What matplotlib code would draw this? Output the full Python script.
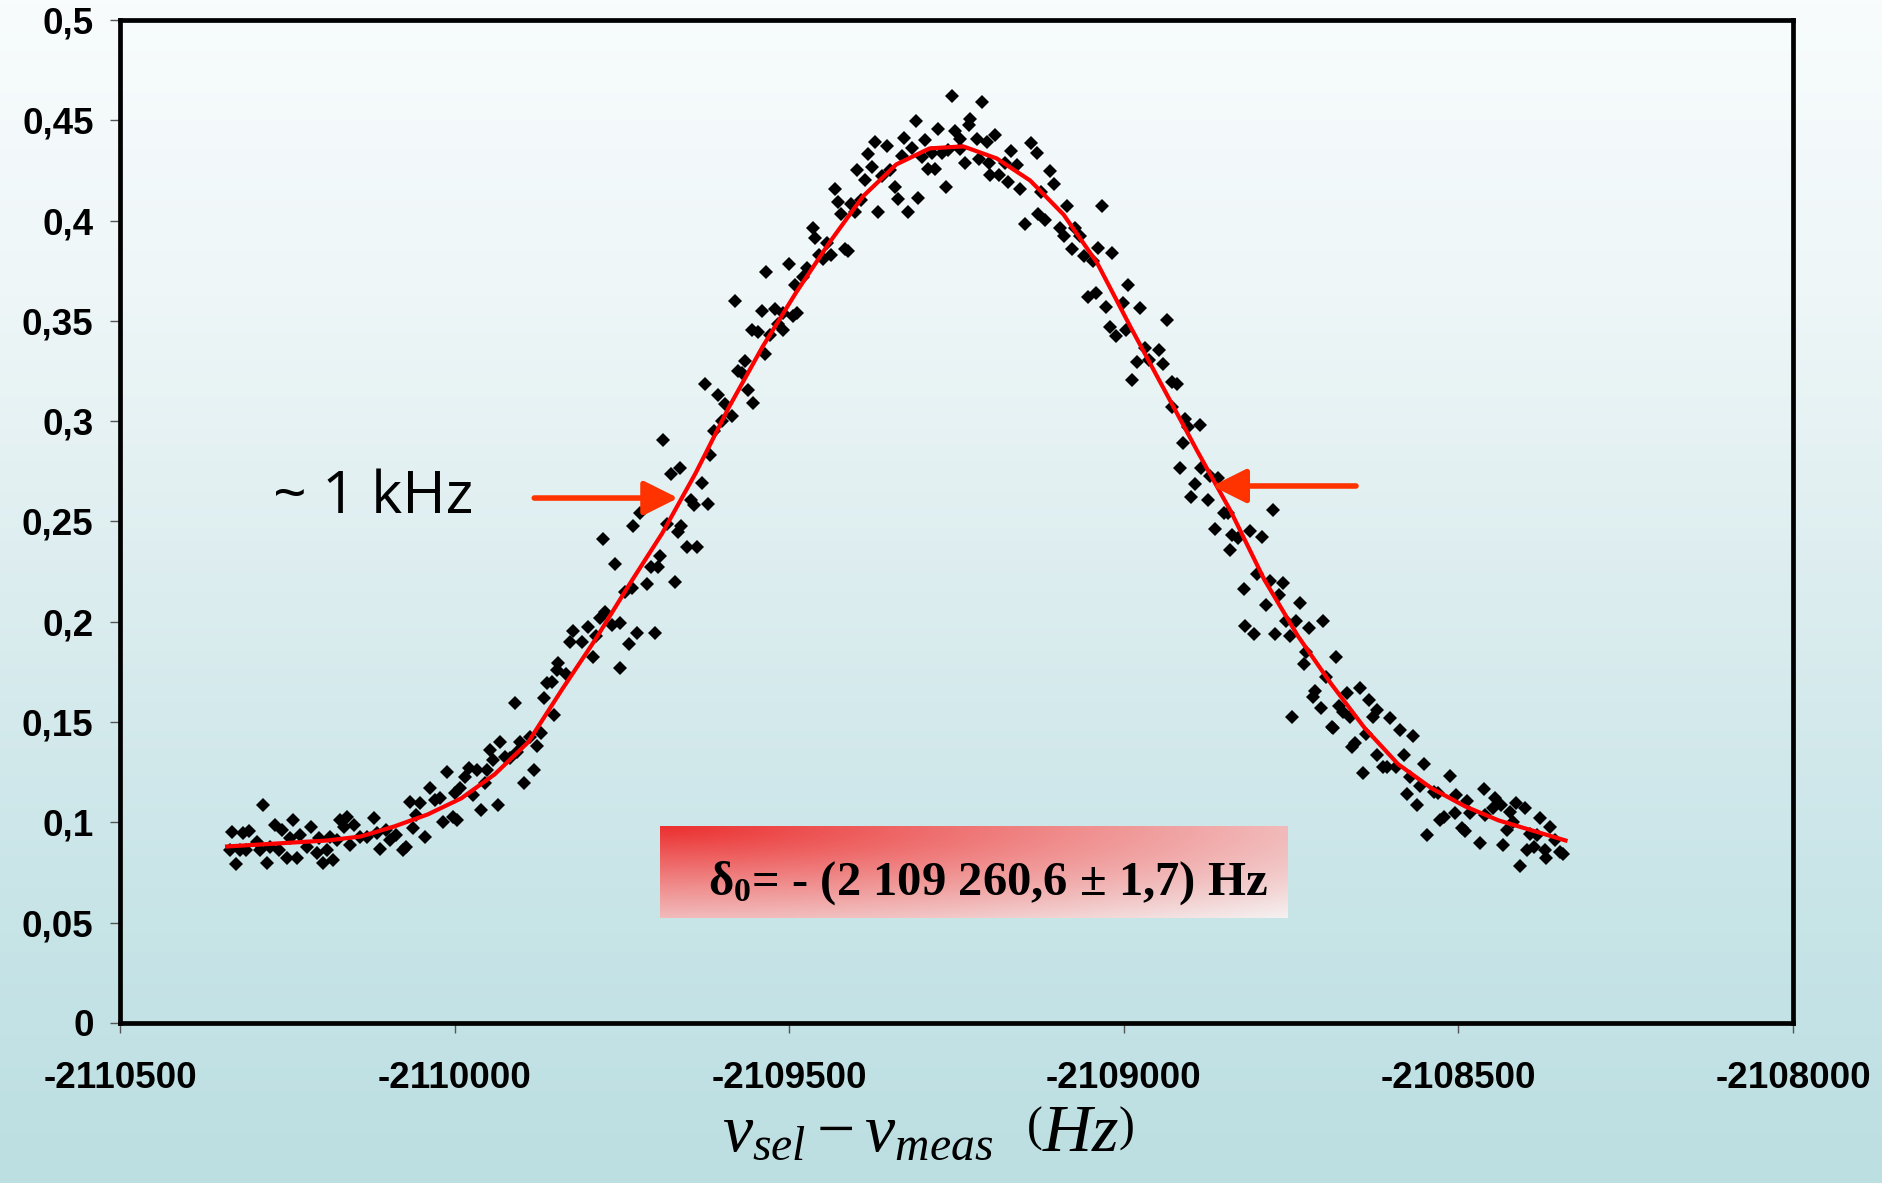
import numpy as np
import matplotlib
matplotlib.use("Agg")
import matplotlib.pyplot as plt
from matplotlib.colors import LinearSegmentedColormap
from matplotlib.ticker import FuncFormatter, MultipleLocator

plt.rcParams['mathtext.fontset'] = 'custom'
plt.rcParams['mathtext.rm'] = 'Liberation Serif'
plt.rcParams['mathtext.it'] = 'Liberation Serif:italic'
plt.rcParams['mathtext.bf'] = 'Liberation Serif:bold'

# ----------------------------
# Data
# ----------------------------
# measured points: frequency difference (Hz) / signal
freq_hz = [
    # left wing
    -2110333, -2110316, -2110307, -2110336, -2110321, -2110311, -2110296, -2110291,
    -2110327, -2110287, -2110281, -2110268, -2110258, -2110276, -2110263, -2110251,
    -2110242, -2110246, -2110231, -2110236, -2110221, -2110214, -2110206, -2110202,
    -2110196, -2110191, -2110181, -2110186, -2110176, -2110171, -2110161, -2110166,
    -2110156, -2110151, -2110141, -2110131, -2110121, -2110111, -2110116, -2110102,
    -2110097, -2110087, -2110077, -2110072, -2110067, -2110052, -2110057, -2110062,
    -2110044, -2110037, -2110029, -2110022, -2110017, -2110012, -2110002, -2109997,
    -2109999, -2109992, -2109984, -2109979, -2109972, -2109967, -2109960, -2109955,
    -2109952, -2109947, -2109942, -2109935, -2109932, -2109925, -2109917, -2109910,
    -2109907, -2109902, -2109896, -2109887, -2109882, -2109877, -2109871, -2109867,
    -2109862, -2109855, -2109851, -2109847,
    # rising edge
    -2109372, -2109382, -2109354, -2109349, -2109377, -2109399, -2109387, -2109362,
    -2109342, -2109337, -2109367, -2109432, -2109427, -2109407, -2109392, -2109402,
    -2109422, -2109464, -2109461, -2109444, -2109456, -2109449, -2109437, -2109417,
    -2109412, -2109474, -2109479, -2109491, -2109501, -2109534, -2109581, -2109541,
    -2109521, -2109509, -2109494, -2109489, -2109516, -2109509, -2109529, -2109556,
    -2109546, -2109536, -2109566, -2109576, -2109571, -2109561, -2109554, -2109626,
    -2109606, -2109596, -2109586, -2109601, -2109613, -2109618, -2109688, -2109676,
    -2109663, -2109631, -2109646, -2109621, -2109643, -2109683, -2109723, -2109733,
    -2109661, -2109666, -2109653, -2109638, -2109778, -2109760, -2109693, -2109706,
    -2109696, -2109713, -2109671, -2109745, -2109735, -2109775, -2109783, -2109765,
    -2109753, -2109800, -2109823, -2109828, -2109810, -2109788, -2109793, -2109728,
    -2109701, -2109740, -2109845, -2109753, -2109833,
    # top and falling edge
    -2109257, -2109212, -2109311, -2109277, -2109230, -2109232, -2109328, -2109317,
    -2109297, -2109332, -2109302, -2109287, -2109272, -2109262, -2109252, -2109245,
    -2109245, -2109220, -2109205, -2109192, -2109237, -2109217, -2109202, -2109200,
    -2109187, -2109292, -2109282, -2109322, -2109307, -2109265, -2109178, -2109168,
    -2109173, -2109160, -2109155, -2109138, -2109130, -2109110, -2109105, -2109123,
    -2109085, -2109033, -2109148, -2109128, -2109118, -2109095, -2109090, -2109073,
    -2109065, -2109078, -2109060, -2109046, -2109038, -2109018, -2109053, -2109041,
    -2109026, -2109001, -2108993, -2108976, -2108936, -2109021, -2109011, -2108996,
    -2108968, -2108948, -2108981, -2108963, -2108941, -2108988, -2108928, -2108921,
    -2108928, -2108909, -2108886, -2108904, -2108911, -2108884, -2108916, -2108871,
    -2108859, -2108894, -2108899, -2108874,
    # right wing
    -2108851, -2108844, -2108777, -2108864, -2108839, -2108829, -2108841, -2108811,
    -2108794, -2108801, -2108782, -2108762, -2108821, -2108768, -2108788, -2108737,
    -2108757, -2108742, -2108703, -2108723, -2108819, -2108806, -2108774, -2108752,
    -2108728, -2108683, -2108731, -2108698, -2108714, -2108718, -2108667, -2108647,
    -2108633, -2108706, -2108748, -2108678, -2108672, -2108662, -2108622, -2108627,
    -2108602, -2108689, -2108687, -2108638, -2108587, -2108568, -2108655, -2108659,
    -2108622, -2108581, -2108551, -2108612, -2108607, -2108593, -2108642, -2108573,
    -2108512, -2108558, -2108577, -2108537, -2108530, -2108562, -2108504, -2108462,
    -2108487, -2108445, -2108437, -2108448, -2108414, -2108400, -2108423, -2108522,
    -2108505, -2108528, -2108482, -2108460, -2108378, -2108363, -2108418, -2108495,
    -2108490, -2108428, -2108393, -2108383, -2108356, -2108547, -2108468, -2108434,
    -2108398, -2108387, -2108371, -2108369, -2108348, -2108344, -2108408,
]

signal = [
    # left wing
    0.0954, 0.0945, 0.0959, 0.0862, 0.0862, 0.0862, 0.0904, 0.0862,
    0.0792, 0.1087, 0.0796, 0.0987, 0.0962, 0.0879, 0.0862, 0.0821,
    0.1012, 0.0920, 0.0937, 0.0821, 0.0879, 0.0979, 0.0846, 0.0920,
    0.0796, 0.0862, 0.0812, 0.0929, 0.0912, 0.1012, 0.1028, 0.0979,
    0.0887, 0.0987, 0.0929, 0.0929, 0.1020, 0.0866, 0.0945, 0.0962,
    0.0912, 0.0937, 0.0862, 0.0879, 0.1103, 0.1095, 0.1037, 0.0970,
    0.0929, 0.1170, 0.1112, 0.1120, 0.1003, 0.1253, 0.1028, 0.1012,
    0.1145, 0.1170, 0.1228, 0.1269, 0.1136, 0.1261, 0.1062, 0.1195,
    0.1261, 0.1361, 0.1311, 0.1087, 0.1402, 0.1328, 0.1319, 0.1594,
    0.1353, 0.1402, 0.1195, 0.1427, 0.1261, 0.1381, 0.1444, 0.1618,
    0.1693, 0.1702, 0.1535, 0.1760,
    # rising edge
    0.4390, 0.4334, 0.4371, 0.4250, 0.4268, 0.4250, 0.4203, 0.4222,
    0.4166, 0.4110, 0.4045, 0.4156, 0.4091, 0.4082, 0.4101, 0.4045,
    0.4035, 0.3961, 0.3914, 0.3886, 0.3830, 0.3811, 0.3830, 0.3858,
    0.3849, 0.3765, 0.3718, 0.3681, 0.3783, 0.3746, 0.3597, 0.3550,
    0.3559, 0.3541, 0.3522, 0.3541, 0.3485, 0.3457, 0.3429, 0.3457,
    0.3447, 0.3335, 0.3298, 0.3252, 0.3242, 0.3158, 0.3093, 0.3186,
    0.3130, 0.3084, 0.3028, 0.3000, 0.2953, 0.2832, 0.2906, 0.2738,
    0.2766, 0.2692, 0.2608, 0.2589, 0.2580, 0.2486, 0.2542, 0.2477,
    0.2477, 0.2449, 0.2375, 0.2375, 0.2412, 0.2290, 0.2328, 0.2272,
    0.2272, 0.2188, 0.2197, 0.2151, 0.2169, 0.2048, 0.2020, 0.1983,
    0.1992, 0.1973, 0.1955, 0.1899, 0.1899, 0.1927, 0.1824, 0.1945,
    0.1945, 0.1889, 0.1796, 0.1768, 0.1740,
    # top and falling edge
    0.4622, 0.4593, 0.4495, 0.4455, 0.4504, 0.4475, 0.4410, 0.4363,
    0.4402, 0.4324, 0.4318, 0.4337, 0.4337, 0.4351, 0.4445, 0.4406,
    0.4357, 0.4406, 0.4390, 0.4426, 0.4288, 0.4308, 0.4288, 0.4229,
    0.4229, 0.4259, 0.4259, 0.4042, 0.4111, 0.4166, 0.4288, 0.4347,
    0.4190, 0.4278, 0.4160, 0.4386, 0.4337, 0.4249, 0.4180, 0.4141,
    0.4072, 0.4072, 0.3983, 0.4033, 0.4003, 0.3964, 0.3924, 0.3964,
    0.3924, 0.3856, 0.3826, 0.3797, 0.3865, 0.3836, 0.3620, 0.3639,
    0.3571, 0.3590, 0.3679, 0.3565, 0.3502, 0.3472, 0.3423, 0.3453,
    0.3364, 0.3354, 0.3295, 0.3305, 0.3285, 0.3207, 0.3197, 0.3187,
    0.3069, 0.3010, 0.2981, 0.2971, 0.2892, 0.2765, 0.2765, 0.2725,
    0.2715, 0.2686, 0.2621, 0.2607,
    # right wing
    0.2541, 0.2541, 0.2557, 0.2461, 0.2433, 0.2416, 0.2358, 0.2454,
    0.2424, 0.2238, 0.2205, 0.2192, 0.2162, 0.2134, 0.2084, 0.2095,
    0.2006, 0.2006, 0.2006, 0.1967, 0.1979, 0.1937, 0.1937, 0.1929,
    0.1851, 0.1826, 0.1790, 0.1723, 0.1657, 0.1627, 0.1643, 0.1668,
    0.1610, 0.1569, 0.1524, 0.1580, 0.1552, 0.1527, 0.1560, 0.1524,
    0.1519, 0.1477, 0.1469, 0.1441, 0.1461, 0.1431, 0.1394, 0.1377,
    0.1336, 0.1336, 0.1291, 0.1274, 0.1274, 0.1274, 0.1244, 0.1228,
    0.1231, 0.1181, 0.1141, 0.1153, 0.1145, 0.1087, 0.1136, 0.1165,
    0.1108, 0.1120, 0.1087, 0.1070, 0.1098, 0.1070, 0.1053, 0.1025,
    0.1045, 0.1012, 0.1048, 0.1037, 0.1020, 0.0975, 0.1003, 0.0970,
    0.0959, 0.0962, 0.0942, 0.0937, 0.0912, 0.0937, 0.0899, 0.0887,
    0.0862, 0.0879, 0.0862, 0.0821, 0.0854, 0.0842, 0.0782,
]

# fitted curve, read every 50 Hz
fit_hz = [
    -2110340, -2110290, -2110240, -2110190, -2110140, -2110090, -2110040, -2109990,
    -2109940, -2109890, -2109840, -2109790, -2109740, -2109690, -2109640, -2109590,
    -2109540, -2109490, -2109440, -2109390, -2109340, -2109290, -2109240, -2109190,
    -2109140, -2109090, -2109040, -2108990, -2108940, -2108890, -2108840, -2108790,
    -2108740, -2108690, -2108640, -2108590, -2108540, -2108490, -2108440, -2108390,
    -2108340,
]
fit_signal = [
    0.088, 0.089, 0.090, 0.091, 0.093, 0.098, 0.104, 0.112,
    0.124, 0.140, 0.166, 0.191, 0.218, 0.244, 0.274, 0.307,
    0.337, 0.364, 0.389, 0.412, 0.428, 0.436, 0.437, 0.431,
    0.420, 0.403, 0.379, 0.347, 0.316, 0.285, 0.255, 0.221,
    0.193, 0.169, 0.147, 0.129, 0.117, 0.108, 0.101, 0.096,
    0.091,
]

# half-height arrows (tail -> tip)
left_arrow = ((-2109881, 0.2617), (-2109666, 0.2617))
right_arrow = ((-2108653, 0.2677), (-2108868, 0.2677))

x_ticks = [-2110500, -2110000, -2109500, -2109000, -2108500, -2108000]
result_text = r'$\mathbf{\delta_0}$= - (2 109 260,6 ± 1,7) Hz'

# ----------------------------
# Figure + background gradient
# ----------------------------
W, H = 1882, 1183
fig = plt.figure(figsize=(W / 100, H / 100), dpi=100)

bg_cmap = LinearSegmentedColormap.from_list(
    "bg", [(0.0, "#f8fcfd"), (0.25, "#eef6f7"), (0.5, "#dcedef"),
           (0.75, "#c9e5e8"), (1.0, "#bcdfe2")])
bg = fig.add_axes([0, 0, 1, 1], zorder=-10)
bg.imshow(np.linspace(0, 1, 256)[:, None], aspect="auto", cmap=bg_cmap,
          extent=[0, 1, 0, 1])
bg.axis("off")

# ----------------------------
# Main plot
# ----------------------------
ax_l, ax_r, ax_t, ax_b = 120, 1793, 20, 1023
ax = fig.add_axes([ax_l / W, 1 - ax_b / H, (ax_r - ax_l) / W, (ax_b - ax_t) / H])
ax.set_facecolor("none")

ax.plot(freq_hz, signal, linestyle="none", marker="D", markersize=7.4,
        markeredgewidth=0, color="black", zorder=2)
ax.plot(fit_hz, fit_signal, color="#ff0000", lw=3.0, zorder=3)

ax.set_xlim(-2110500, -2108000)
ax.set_ylim(0, 0.5)
ax.set_xticks(x_ticks)
ax.yaxis.set_major_locator(MultipleLocator(0.05))
ax.xaxis.set_major_formatter(FuncFormatter(lambda v, _: "%d" % round(v)))
ax.yaxis.set_major_formatter(
    FuncFormatter(lambda v, _: ("%g" % round(v, 2)).replace(".", ",")))

for s in ax.spines.values():
    s.set_linewidth(3.4)
    s.set_color("black")

ax.tick_params(axis="both", direction="out", length=7, width=1, color="#555555",
               labelsize=26.5)
ax.tick_params(axis="y", pad=12)
ax.tick_params(axis="x", pad=20)
for lab in ax.get_xticklabels() + ax.get_yticklabels():
    lab.set_fontfamily("Liberation Sans")
    lab.set_fontweight("bold")

# arrows + width label
for tail, tip in (left_arrow, right_arrow):
    ax.annotate("", xy=tip, xytext=tail,
                arrowprops=dict(arrowstyle="-|>", color="#ff3300", lw=4,
                                mutation_scale=52, shrinkA=0, shrinkB=0),
                zorder=4)

ax.text(0.0915, 0.5085, "~ 1 kHz", transform=ax.transAxes, fontsize=42.5,
        fontfamily="Open Sans", fontweight="normal", color="black",
        ha="left", va="baseline")

# ----------------------------
# Result box with red gradient
# ----------------------------
bx0, by0, bx1, by1 = 660, 826, 1288, 918
box = fig.add_axes([bx0 / W, 1 - by1 / H, (bx1 - bx0) / W, (by1 - by0) / H])
u = np.linspace(0, 1, 300)[None, :]
v = np.linspace(0, 1, 60)[:, None]
t = np.sqrt(u ** 2 + v ** 2) / np.sqrt(2)
box_cmap = LinearSegmentedColormap.from_list(
    "box", [(0.0, "#ec3030"), (0.45, "#f08a8a"), (0.75, "#f2c2c2"),
            (1.0, "#f5f1f1")])
box.imshow(t, aspect="auto", cmap=box_cmap, extent=[0, 1, 0, 1], origin="upper")
box.axis("off")
box.text(0.522, 0.25, result_text, transform=box.transAxes, fontsize=35,
         fontfamily="Liberation Serif", fontweight="bold", ha="center",
         va="baseline")

# x axis label
fig.text(928 / W, 1 - 1132 / H, r'$\nu_{sel} - \nu_{meas}\ \ \left(Hz\right)$',
         fontsize=49, ha="center", va="center")

fig.savefig("out.png", dpi=100)
